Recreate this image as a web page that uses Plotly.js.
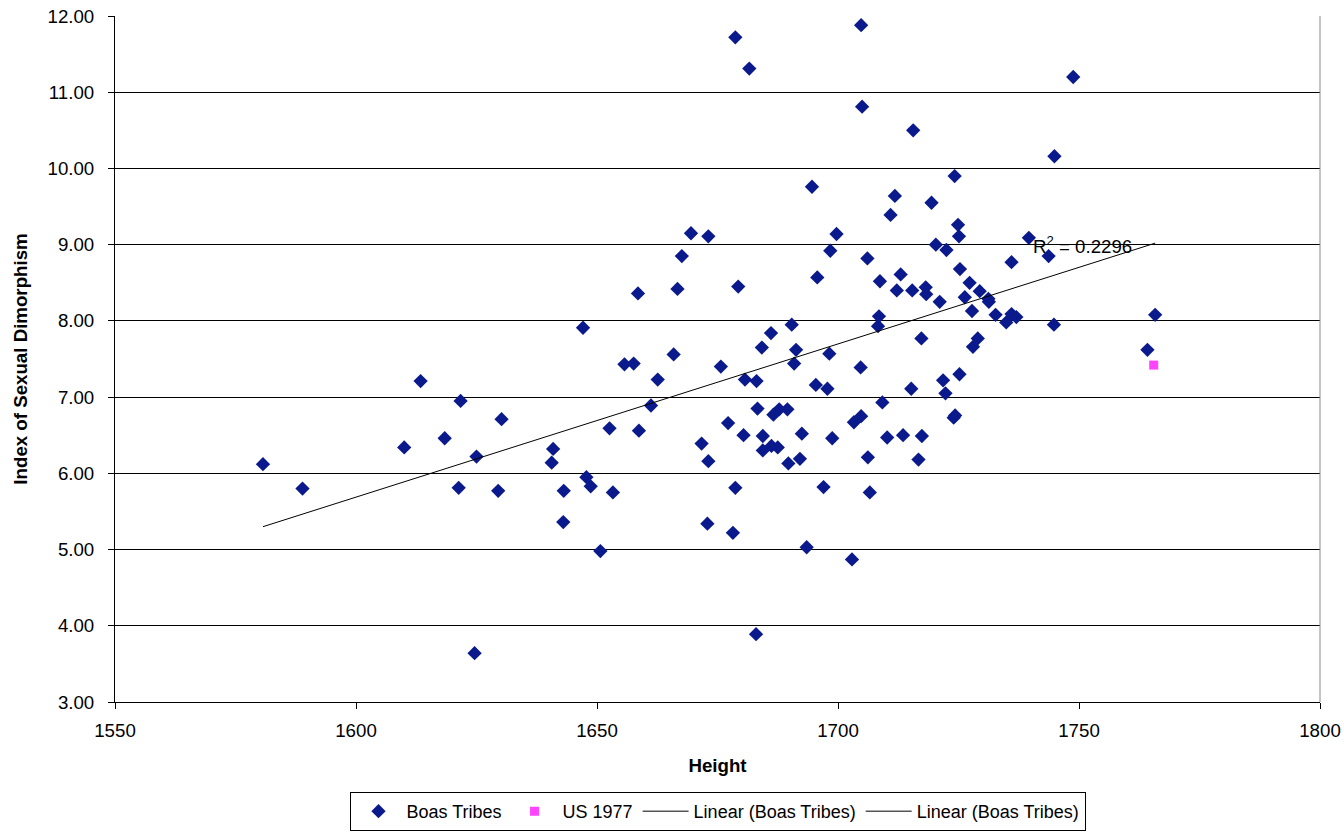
<!DOCTYPE html>
<html>
<head>
<meta charset="utf-8">
<script src="https://cdn.plot.ly/plotly-3.0.1.min.js"></script>
<style>html,body{margin:0;padding:0;background:#fff;}#chart{width:1344px;height:833px;}</style>
</head>
<body>
<div id="chart"></div>
<script>
// Boas Tribes: height (mm) and index of sexual dimorphism
const boasHeight = [1580.7,1588.9,1610.0,1613.4,1618.4,1621.7,1621.3,1625.0,1624.6,1629.5,
1630.2,1640.9,1640.6,1643.1,1643.0,1647.1,1647.8,1648.7,1650.7,1652.6,
1653.3,1655.7,1657.6,1658.5,1658.7,1661.2,1662.6,1665.9,1666.7,1667.6,
1669.5,1671.7,1672.9,1673.1,1673.1,1675.7,1677.2,1678.2,1678.7,1678.7,
1679.3,1680.4,1680.7,1681.6,1683.0,1683.1,1683.3,1684.2,1684.4,1684.4,
1686.1,1686.2,1686.6,1687.5,1687.8,1689.5,1689.7,1690.4,1690.9,1691.3,
1692.1,1692.5,1693.5,1694.6,1695.4,1695.7,1697.0,1697.8,1698.2,1698.4,
1698.8,1699.7,1702.9,1703.3,1704.7,1704.8,1704.8,1705.0,1706.1,1706.2,
1706.6,1708.3,1708.5,1708.7,1709.2,1710.2,1710.9,1711.8,1712.2,1713.0,
1713.5,1715.2,1715.4,1715.6,1716.7,1717.3,1717.4,1718.2,1718.3,1719.4,
1720.3,1721.1,1721.8,1722.3,1722.5,1724.0,1724.3,1724.2,1724.9,1725.1,
1725.2,1725.3,1726.3,1727.3,1727.8,1728.0,1729.0,1729.4,1731.2,1731.3,
1732.7,1734.9,1736.0,1737.0,1736.0,1739.6,1743.7,1744.8,1744.9,1748.8,
1764.2,1765.8];
const boasIndex = [6.12,5.80,6.34,7.21,6.46,6.95,5.81,6.22,3.64,5.77,
6.71,6.32,6.14,5.77,5.36,7.91,5.95,5.83,4.98,6.59,
5.75,7.43,7.44,8.36,6.56,6.89,7.23,7.56,8.42,8.85,
9.15,6.39,5.34,9.11,6.16,7.40,6.66,5.22,5.81,11.72,
8.45,6.50,7.23,11.31,3.89,7.21,6.85,7.65,6.49,6.30,
7.84,6.36,6.77,6.34,6.84,6.84,6.13,7.95,7.44,7.62,
6.19,6.52,5.03,9.76,7.16,8.57,5.82,7.11,7.57,8.92,
6.46,9.14,4.87,6.67,7.39,6.75,11.88,10.81,8.82,6.21,
5.75,7.93,8.06,8.52,6.93,6.47,9.39,9.64,8.40,8.61,
6.50,7.11,8.40,10.50,6.18,7.77,6.49,8.44,8.35,9.55,
9.00,8.25,7.22,7.05,8.93,6.73,6.76,9.90,9.26,9.11,
7.30,8.68,8.31,8.50,8.13,7.66,7.77,8.39,8.29,8.25,
8.08,7.98,8.09,8.05,8.77,9.09,8.85,7.95,10.16,11.20,
7.62,8.08];
// US 1977
const usHeight = [1765.5];
const usIndex = [7.42];
// Linear trendline (Boas Tribes), endpoints
const trendHeight = [1580.7, 1765.8];
const trendIndex = [5.30, 9.02];
const r2Text = "R<sup>2</sup> = 0.2296";

const FONT = "Arial, 'Liberation Sans', sans-serif";
const FS = 18.7;

const traces = [
  {x: boasHeight, y: boasIndex, type: 'scatter', mode: 'markers', name: 'Boas Tribes',
   marker: {symbol: 'diamond', size: 11, color: '#0a1a8c'}},
  {x: usHeight, y: usIndex, type: 'scatter', mode: 'markers', name: 'US 1977',
   marker: {symbol: 'square', size: 9, color: '#ff44ff'}},
  {x: trendHeight, y: trendIndex, type: 'scatter', mode: 'lines', name: 'Linear (Boas Tribes)',
   line: {color: '#000000', width: 1}, hoverinfo: 'skip'},
  {x: usHeight, y: usIndex, type: 'scatter', mode: 'lines', name: 'Linear (Boas Tribes)',
   line: {color: '#000000', width: 1}, hoverinfo: 'skip'}
];

const layout = {
  width: 1344, height: 833,
  margin: {l: 115, r: 24, t: 16, b: 131, autoexpand: false},
  paper_bgcolor: '#ffffff', plot_bgcolor: '#ffffff',
  font: {family: FONT, size: FS, color: '#000000'},
  showlegend: true,
  xaxis: {
    range: [1550, 1800], dtick: 50, tick0: 1550, automargin: false,
    showgrid: false, zeroline: false,
    showline: true, linecolor: '#000000', linewidth: 1,
    ticks: 'outside', ticklen: 6, tickcolor: '#000000', ticklabelstandoff: 6,
    tickfont: {family: FONT, size: FS, color: '#000000'},
    title: {text: '<b>Height</b>', font: {family: FONT, size: FS, color: '#000000'}, standoff: 18}
  },
  yaxis: {
    range: [3, 12], dtick: 1, tick0: 3, tickformat: '.2f', automargin: false,
    showgrid: true, gridcolor: '#000000', gridwidth: 1, zeroline: false,
    showline: true, linecolor: '#000000', linewidth: 1,
    ticks: 'outside', ticklen: 6, tickcolor: '#000000', ticklabelstandoff: 10,
    tickfont: {family: FONT, size: FS, color: '#000000'},
    title: {text: '<b>Index of Sexual Dimorphism</b>', font: {family: FONT, size: FS, color: '#000000'}, standoff: 14}
  },
  legend: {
    orientation: 'h', x: 0.5, xanchor: 'center', y: -0.188, yanchor: 'bottom',
    bordercolor: '#000000', borderwidth: 1, bgcolor: '#ffffff', itemwidth: 46,
    font: {family: FONT, size: 18, color: '#000000'}
  },
  annotations: [{
    x: 1750.7, y: 8.99, xref: 'x', yref: 'y', text: r2Text, showarrow: false,
    font: {family: FONT, size: FS, color: '#000000'}
  }],
  shapes: [{type: 'line', xref: 'paper', yref: 'paper', x0: 1, x1: 1, y0: 0, y1: 1,
    line: {color: '#888888', width: 1}}]
};

Plotly.newPlot('chart', traces, layout, {displayModeBar: false, staticPlot: true});
</script>
</body>
</html>
